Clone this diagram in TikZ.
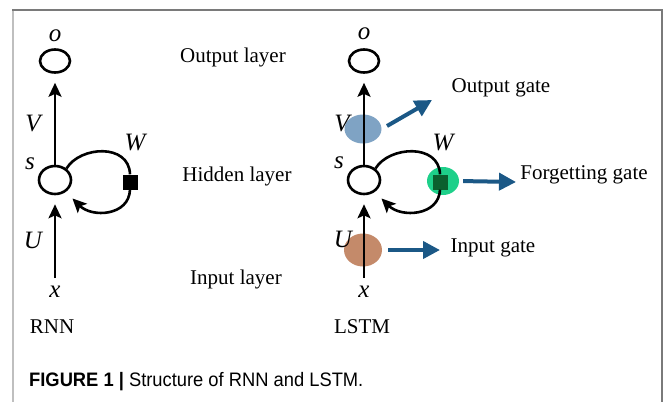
\documentclass[tikz,border=0pt]{standalone}
\usepackage{fontspec}
\setmainfont{Liberation Serif}
\newfontfamily\capfont[FakeStretch=0.94]{Liberation Sans}
\usetikzlibrary{shapes.geometric,arrows.meta}
\definecolor{gblue}{HTML}{7FA3C4}
\definecolor{ggreen}{HTML}{1ED08A}
\definecolor{gbrown}{HTML}{C48A6A}
\definecolor{gsquare}{HTML}{0B5F2E}
\definecolor{garrow}{HTML}{1B5886}
\definecolor{framedark}{HTML}{7A7A7A}
\definecolor{framelight}{HTML}{BFBFBF}
\tikzset{
  neuron/.style={draw, line width=2.6pt, ellipse, inner sep=0pt},
  lbl/.style={font=\fontsize{21}{24}\selectfont, inner sep=0pt},
  var/.style={font=\fontsize{25}{28}\selectfont\itshape, inner sep=0pt},
  flow/.style={line width=2.6pt, -{Stealth[length=14pt,width=13pt,inset=3pt]}},
  loopline/.style={line width=2.6pt},
  gatearrow/.style={line width=4pt, draw=garrow, -{Triangle[length=17pt,width=17pt]}, color=garrow},
  gate/.style={ellipse, inner sep=0pt},
  wsq/.style={rectangle, inner sep=0pt, minimum size=15pt}
}
\begin{document}
\begin{tikzpicture}[x=1pt,y=-1pt]
\useasboundingbox (0,0) rectangle (663,402);
% frame
\draw[framelight, line width=2pt] (13,10) -- (13,402);
\draw[framedark, line width=1.5pt] (12,10) -- (662,10) -- (662,402);

% ---------- RNN ----------
\node[neuron, minimum width=30pt, minimum height=23pt] (o1) at (55,61) {};
\node[neuron, minimum width=32pt, minimum height=28pt] (s1) at (55,180) {};
\node[wsq, fill=black] (sq1) at (130,182) {};
\node[var] (lo1) at (55,36) {o};
\node[var] (lV1) at (33,123) {V};
\node[var] (lW1) at (135,143) {W};
\node[var] (ls1) at (30,164) {s};
\node[var] (lU1) at (33,240) {U};
\node[var] (lx1) at (55,292) {x};
\node[lbl] (rnn) at (52,327) {RNN};
\draw[flow, shorten >=9pt] (s1.north) -- (o1.south);
\draw[flow, shorten <=8pt, shorten >=9pt] (lx1.north) -- (s1.south);
\draw[loopline] (s1.45) .. controls (80,146) and (129,143) .. (sq1.north);
\draw[flow] (sq1.south) .. controls (129,216) and (92,218) .. ([shift={(6,7)}]s1.-45);

% layer labels
\node[lbl] (outl) at (233,57) {Output layer};
\node[lbl] (hidl) at (237,176) {Hidden layer};
\node[lbl] (inl) at (236,279) {Input layer};

% ---------- LSTM ----------
\node[gate, fill=gblue, minimum width=37pt, minimum height=29pt] (gb) at (363,129) {};
\node[gate, fill=ggreen, minimum width=32pt, minimum height=28pt] (gg) at (443,181) {};
\node[gate, fill=gbrown, minimum width=38pt, minimum height=33pt] (gbr) at (363,250) {};

\node[neuron, minimum width=30pt, minimum height=23pt] (o2) at (364,61) {};
\node[neuron, minimum width=32pt, minimum height=28pt] (s2) at (364,180) {};
\node[wsq, fill=gsquare] (sq2) at (440,182) {};
\node[var] (lo2) at (364,34) {o};
\node[var] (lV2) at (342,123) {V};
\node[var] (lW2) at (443,142) {W};
\node[var] (ls2) at (339,163) {s};
\node[var] (lU2) at (343,239) {U};
\node[var] (lx2) at (364,292) {x};
\node[lbl] (lstm) at (362,327) {LSTM};
\draw[flow, shorten >=9pt] (s2.north) -- (o2.south);
\draw[flow, shorten <=8pt, shorten >=9pt] (lx2.north) -- (s2.south);
\draw[loopline] (s2.45) .. controls (389,146) and (439,143) .. (sq2.north);
\draw[flow] (sq2.south) .. controls (439,216) and (401,218) .. ([shift={(6,7)}]s2.-45);

% gate arrows and labels
\coordinate (og0) at (387,126);
\coordinate (og1) at (432,100);
\coordinate (fg1) at (516,182);
\coordinate (ig1) at (440,250);
\draw[gatearrow] (og0) -- (og1);
\draw[gatearrow, shorten <=4pt] (gg.east) -- (fg1);
\draw[gatearrow, shorten <=6pt] (gbr.east) -- (ig1);
\node[lbl] (outg) at (501,88) {Output gate};
\node[lbl] (forg) at (584,175) {Forgetting gate};
\node[lbl] (ing) at (493,248) {Input gate};

% caption
\node[anchor=west, inner sep=0pt, font=\capfont\fontsize{19.5}{22}\selectfont] (cap) at (29,382)
  {\textbf{FIGURE 1 |} Structure of RNN and LSTM.};
\end{tikzpicture}
\end{document}
